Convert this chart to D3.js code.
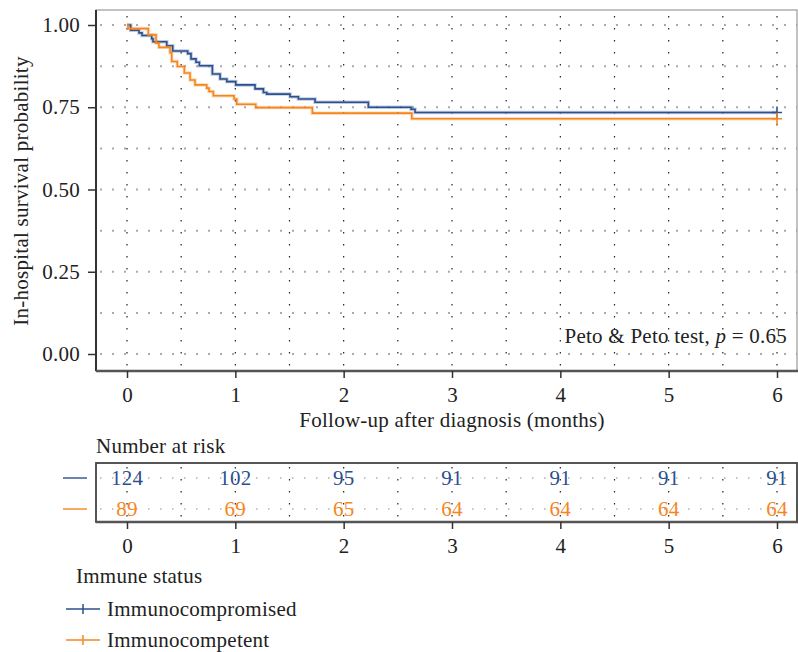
<!DOCTYPE html>
<html>
<head>
<meta charset="utf-8">
<script src="https://cdn.jsdelivr.net/npm/d3@7"></script>
<style>
  body { margin: 0; background: #fff; }
  text { font-family: "Liberation Serif", "DejaVu Serif", serif; fill: #222; letter-spacing: 0.25px; }
</style>
</head>
<body>
<script>
// survival steps
const compTimes = [0.034, 0.111, 0.139, 0.228, 0.24, 0.367, 0.422, 0.56, 0.591, 0.637, 0.668, 0.788, 0.859, 0.921, 1.004, 1.182, 1.259, 1.29, 1.505, 1.582, 1.736, 2.228, 2.622, 2.659]
const compSurv = [0.984, 0.976, 0.968, 0.958, 0.949, 0.937, 0.921, 0.913, 0.897, 0.887, 0.876, 0.851, 0.836, 0.828, 0.818, 0.806, 0.795, 0.790, 0.782, 0.775, 0.765, 0.750, 0.744, 0.734]
const petTimes = [0.01, 0.197, 0.268, 0.295, 0.397, 0.413, 0.464, 0.529, 0.582, 0.628, 0.736, 0.757, 0.797, 0.988, 1.013, 1.188, 1.711, 2.629]
const petSurv = [0.989, 0.970, 0.945, 0.932, 0.916, 0.889, 0.874, 0.854, 0.833, 0.818, 0.808, 0.798, 0.785, 0.775, 0.759, 0.749, 0.732, 0.715]

const riskTimes = [0, 1, 2, 3, 4, 5, 6]
const riskComp = [124, 102, 95, 91, 91, 91, 91]
const riskPet = [89, 69, 65, 64, 64, 64, 64]
const yTicks = [0, 0.25, 0.5, 0.75, 1]
const groups = ["Immunocompromised", "Immunocompetent"]

const blue = "#2b4f8f"
const orange = "#f5861f"
const fs = 21
const font = "Liberation Serif"

const svg = d3.select("body").append("svg").attr("width", 798).attr("height", 652)

const x = d3.scaleLinear().domain([0, 6]).range([127, 777])
const y = d3.scaleLinear().domain([0, 1]).range([354, 25])
const box = {left: 96, right: 797, top: 10, bottom: 371}

// grid
const hGrid = d3.range(0, 1.001, 0.125)
svg.selectAll(".hgrid").data(hGrid).enter().append("line")
   .attr("x1", box.left + 4).attr("x2", box.right).attr("y1", d => y(d)).attr("y2", d => y(d))
   .attr("stroke", "#aaa").attr("stroke-width", 2).attr("stroke-dasharray", "2,10")
const vGrid = d3.range(0, 6.01, 0.5)
svg.selectAll(".vgrid").data(vGrid).enter().append("line")
   .attr("x1", d => x(d)).attr("x2", d => x(d)).attr("y1", box.top + 6).attr("y2", box.bottom)
   .attr("stroke", "#222").attr("stroke-width", 1.2).attr("stroke-dasharray", "1.5,10.5")

// frame
svg.append("rect").attr("x", box.left).attr("y", box.top).attr("width", box.right - box.left)
   .attr("height", box.bottom - box.top).attr("fill", "none").attr("stroke", "#999").attr("stroke-width", 1.2)
svg.append("line").attr("x1", box.left).attr("x2", box.left).attr("y1", box.top).attr("y2", box.bottom)
   .attr("stroke", "#333").attr("stroke-width", 2)
svg.append("line").attr("x1", box.left).attr("x2", box.right + 1).attr("y1", box.bottom).attr("y2", box.bottom)
   .attr("stroke", "#555").attr("stroke-width", 2.5)

// axes
const yAxis = svg.append("g").attr("transform", `translate(${box.left},0)`)
   .call(d3.axisLeft(y).tickValues(yTicks).tickFormat(d3.format(".2f")).tickSize(8).tickPadding(8))
const xAxis = svg.append("g").attr("transform", `translate(0,${box.bottom})`)
   .call(d3.axisBottom(x).ticks(6).tickFormat(d3.format("d")).tickSize(7).tickPadding(9))
;[yAxis, xAxis].forEach(a => {
  a.select(".domain").remove()
  a.selectAll("line").attr("stroke", "#333").attr("stroke-width", 1.5)
  a.selectAll("text").style("font-size", fs + "px").style("font-family", font).style("fill", "#222")
})

svg.append("text").attr("transform", "translate(28,191) rotate(-90)").attr("text-anchor", "middle")
   .style("font-size", fs + "px").text("In-hospital survival probability")
svg.append("text").attr("x", 452).attr("y", 427).attr("text-anchor", "middle")
   .style("font-size", fs + "px").text("Follow-up after diagnosis (months)")

const test = svg.append("text").attr("x", 787).attr("y", 343).attr("text-anchor", "end").style("font-size", fs + "px")
test.append("tspan").text("Peto & Peto test, ")
test.append("tspan").style("font-style", "italic").text("p")
test.append("tspan").text(" = 0.65")

// curves
const line = d3.line().x(d => x(d[0])).y(d => y(d[1])).curve(d3.curveStepAfter)
function steps(times, surv) {
  const pts = [[0, 1]]
  times.forEach((t, i) => pts.push([t, surv[i]]))
  pts.push([6, surv[surv.length - 1]])
  return pts
}
const curves = [[steps(compTimes, compSurv), blue], [steps(petTimes, petSurv), orange]]
curves.forEach(([pts, c]) => {
  svg.append("path").attr("d", line(pts)).attr("fill", "none").attr("stroke", c).attr("stroke-opacity", 0.3).attr("stroke-width", 3.5)
  svg.append("path").attr("d", line(pts)).attr("fill", "none").attr("stroke", c).attr("stroke-width", 1.6)
  const last = pts[pts.length - 1]
  svg.append("path").attr("d", `M${x(last[0]) - 5},${y(last[1])}h10M${x(last[0])},${y(last[1]) - 6}v12`)
     .attr("stroke", c).attr("stroke-width", 1.6)
})

// number at risk table
const rt = {top: 463, bottom: 522}
const rowY = [478, 509]
svg.append("text").attr("x", 96).attr("y", 453).style("font-size", fs + "px").text("Number at risk")
svg.selectAll(".rvgrid").data(vGrid).enter().append("line")
   .attr("x1", d => x(d)).attr("x2", d => x(d)).attr("y1", rt.top + 4).attr("y2", rt.bottom)
   .attr("stroke", "#222").attr("stroke-width", 1.2).attr("stroke-dasharray", "1.5,10.5")
svg.selectAll(".rhgrid").data(rowY).enter().append("line")
   .attr("x1", box.left + 4).attr("x2", box.right).attr("y1", d => d).attr("y2", d => d)
   .attr("stroke", "#888").attr("stroke-width", 1.2).attr("stroke-dasharray", "1.5,10.5")
svg.append("rect").attr("x", box.left).attr("y", rt.top).attr("width", box.right - box.left)
   .attr("height", rt.bottom - rt.top).attr("fill", "none").attr("stroke", "#444").attr("stroke-width", 1.8)
svg.append("line").attr("x1", box.left).attr("x2", box.right + 1).attr("y1", rt.bottom).attr("y2", rt.bottom)
   .attr("stroke", "#555").attr("stroke-width", 2.5)
const rAxis = svg.append("g").attr("transform", `translate(0,${rt.bottom})`)
   .call(d3.axisBottom(x).tickValues(riskTimes).tickFormat(d3.format("d")).tickSize(7).tickPadding(9))
rAxis.select(".domain").remove()
rAxis.selectAll("line").attr("stroke", "#333").attr("stroke-width", 1.5)
rAxis.selectAll("text").style("font-size", fs + "px").style("font-family", font).style("fill", "#222")

;[[riskComp, blue], [riskPet, orange]].forEach(([vals, c], i) => {
  svg.append("line").attr("x1", 63).attr("x2", 87).attr("y1", rowY[i]).attr("y2", rowY[i])
     .attr("stroke", c).attr("stroke-width", 1.4)
  svg.selectAll(".risk" + i).data(vals).enter().append("text")
     .attr("x", (d, j) => x(riskTimes[j])).attr("y", rowY[i] + 7).attr("text-anchor", "middle")
     .style("font-size", fs + "px").style("fill", c).text(d => d)
})

// legend
svg.append("text").attr("x", 76).attr("y", 583).style("font-size", fs + "px").text("Immune status")
const legend = svg.selectAll(".legend").data(groups).enter().append("g")
   .attr("transform", (d, i) => `translate(0,${609 + i * 31})`)
legend.append("line").attr("x1", 66).attr("x2", 100).attr("stroke", (d, i) => i ? orange : blue).attr("stroke-width", 1.5)
legend.append("line").attr("x1", 83).attr("x2", 83).attr("y1", -5).attr("y2", 5).attr("stroke", (d, i) => i ? orange : blue).attr("stroke-width", 1.5)
legend.append("text").attr("x", 107).attr("y", 7).style("font-size", fs + "px").text(d => d)
</script>
</body>
</html>
